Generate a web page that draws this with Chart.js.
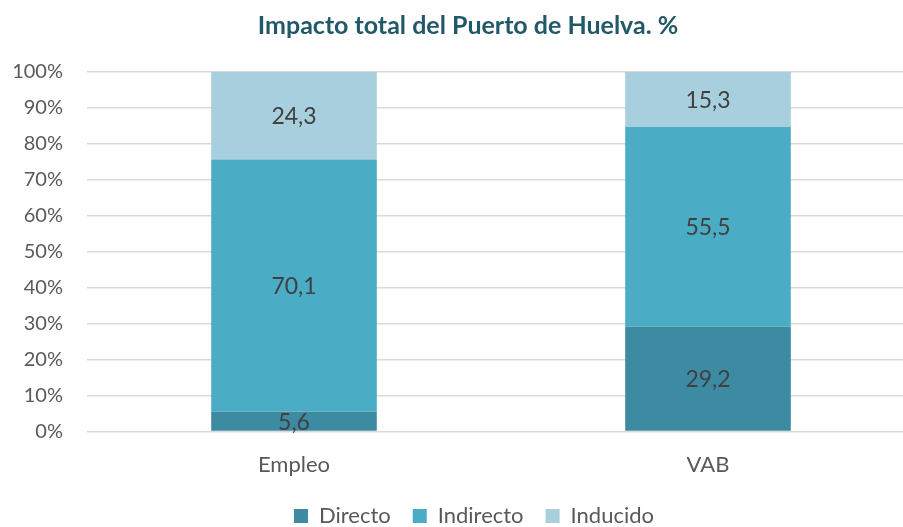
<!DOCTYPE html>
<html>
<head>
<meta charset="utf-8">
<script src="https://cdn.jsdelivr.net/npm/chart.js@4"></script>
<style>
html,body{margin:0;padding:0;background:#fff;overflow:hidden;}
#wrap{width:936px;height:527px;position:relative;}
</style>
</head>
<body>
<div id="wrap"><canvas id="c"></canvas></div>
<script>
const categories = ["Empleo", "VAB"];
const directo = [5.6, 29.2];
const indirecto = [70.1, 55.5];
const inducido = [24.3, 15.3];
const seriesNames = ["Directo", "Indirecto", "Inducido"];
const colors = ["#3d8ba3", "#4bacc6", "#a8cfdd"];
const FONT = "Lato, 'Open Sans', sans-serif";

const labelPlugin = {
  id: 'barLabels',
  afterDatasetsDraw(chart) {
    const ctx = chart.ctx;
    ctx.save();
    ctx.font = "23px " + FONT;
    ctx.fillStyle = "#404040";
    ctx.textAlign = "center";
    ctx.textBaseline = "middle";
    chart.data.datasets.forEach((ds, di) => {
      const meta = chart.getDatasetMeta(di);
      meta.data.forEach((bar, i) => {
        const v = ds.data[i];
        const y = (bar.y + bar.base) / 2;
        ctx.fillText(v.toFixed(1).replace('.', ','), bar.x, y + 1);
      });
    });
    ctx.restore();
  }
};

// nudge title and legend horizontally to match original centring
const nudgePlugin = {
  id: 'nudge',
  afterLayout(chart) {
    const t = chart.titleBlock;
    if (t) { t.left += 8; t.right += 8; }
    const l = chart.legend;
    if (l) { l.left += 14; l.right += 14; }
  }
};

new Chart(document.getElementById('c'), {
  type: 'bar',
  data: {
    labels: categories,
    datasets: [
      { label: seriesNames[0], data: directo, backgroundColor: colors[0] },
      { label: seriesNames[1], data: indirecto, backgroundColor: colors[1] },
      { label: seriesNames[2], data: inducido, backgroundColor: colors[2] }
    ]
  },
  options: {
    responsive: true,
    maintainAspectRatio: false,
    animation: false,
    devicePixelRatio: 1,
    layout: { padding: { left: 5, right: 21, top: 0, bottom: -10 } },
    datasets: { bar: { categoryPercentage: 1, barPercentage: 0.4 } },
    scales: {
      x: {
        stacked: true,
        afterFit: (scale) => { scale.height = scale.height - 7; },
        grid: { display: false },
        border: { display: false },
        ticks: { color: "#595959", font: { family: FONT, size: 22 }, padding: 12 }
      },
      y: {
        stacked: true,
        min: 0, max: 100,
        afterFit: (scale) => { scale.width = 82; },
        ticks: {
          stepSize: 10,
          color: "#595959",
          font: { family: FONT, size: 20 },
          padding: 24,
          callback: v => v + "%"
        },
        grid: { color: "#d9d9d9", lineWidth: 1.5, drawTicks: false },
        border: { display: false }
      }
    },
    plugins: {
      title: {
        display: true,
        text: "Impacto total del Puerto de Huelva. %",
        color: "#215968",
        font: { family: FONT, size: 25, weight: "bold" },
        padding: { top: 11, bottom: 31 }
      },
      legend: {
        position: 'bottom',
        labels: {
          color: "#595959",
          font: { family: FONT, size: 22 },
          boxWidth: 14, boxHeight: 14,
          padding: 22
        }
      },
      tooltip: { enabled: false }
    }
  },
  plugins: [labelPlugin, nudgePlugin]
});
</script>
</body>
</html>
